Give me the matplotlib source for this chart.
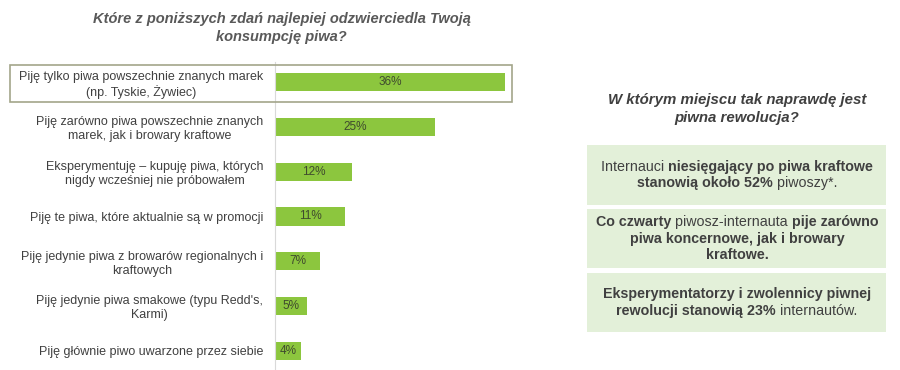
import matplotlib.pyplot as plt
from matplotlib.patches import Rectangle

plt.rcParams['font.family'] = ['Liberation Sans', 'DejaVu Sans']

labels = [
    "Piję tylko piwa powszechnie znanych marek\n(np. Tyskie, Żywiec)",
    "Piję zarówno piwa powszechnie znanych\nmarek, jak i browary kraftowe",
    "Eksperymentuję – kupuję piwa, których\nnigdy wcześniej nie próbowałem",
    "Piję te piwa, które aktualnie są w promocji",
    "Piję jedynie piwa z browarów regionalnych i\nkraftowych",
    "Piję jedynie piwa smakowe (typu Redd's,\nKarmi)",
    "Piję głównie piwo uwarzone przez siebie",
]
values = [36, 25, 12, 11, 7, 5, 4]

title_left = "Które z poniższych zdań najlepiej odzwierciedla Twoją\nkonsumpcję piwa?"
title_right = "W którym miejscu tak naprawdę jest\npiwna rewolucja?"

# each box: list of lines, each line a list of (text, bold)
boxes = [
    [[("Internauci ", False), ("niesięgający po piwa kraftowe", True)],
     [("stanowią około 52%", True), (" piwoszy*.", False)]],
    [[("Co czwarty", True), (" piwosz-internauta ", False), ("pije zarówno", True)],
     [("piwa koncernowe, jak i browary", True)],
     [("kraftowe.", True)]],
    [[("Eksperymentatorzy i zwolennicy piwnej", True)],
     [("rewolucji stanowią 23%", True), (" internautów.", False)]],
]

W, H = 900, 370
text_col = '#404040'
bar_col = '#8cc63e'
box_col = '#e3f0d9'
box_fs = 10.3

fig = plt.figure(figsize=(9, 3.7), dpi=100)
fig.patch.set_facecolor('white')

def px(x, y):
    return x / W, 1 - y / H

# bar axes
x0, y0 = px(275, 370)
ax = fig.add_axes([x0, y0, 256 / W, (370 - 62) / H])
ax.barh(range(len(values)), values, height=0.41, color=bar_col)
ax.set_xlim(0, 40)
ax.set_ylim(6.43, -0.45)
ax.set_yticks(range(len(labels)))
ax.set_yticklabels(labels, fontsize=9, color=text_col, multialignment='center')
ax.tick_params(axis='y', length=0, pad=8.5)
ax.set_xticks([])
for s in ['top', 'right', 'bottom']:
    ax.spines[s].set_visible(False)
ax.spines['left'].set_color('#d9d9d9')
ax.patch.set_alpha(0)
for i, v in enumerate(values):
    ax.text(v / 2, i, f"{v}%", ha='center', va='center', fontsize=8.5, color='#3f4a2e')

fig.text(0.313, 1 - 28 / H, title_left, ha='center', va='center', fontsize=10.5,
         fontweight='bold', style='italic', color='#595959', linespacing=1.4)

# highlight box around first row
fig.patches.append(Rectangle(px(10, 102), 502 / W, 37 / H, transform=fig.transFigure,
                             fill=False, edgecolor='#a3a58a', linewidth=1.2))

fig.text(737 / W, 1 - 109 / H, title_right, ha='center', va='center', fontsize=10.8,
         fontweight='bold', style='italic', color='#404040', linespacing=1.3)

box_tops = [145, 209, 273]
box_h = [60, 59, 59]
fig.canvas.draw()
renderer = fig.canvas.get_renderer()

def seg_width(s, bold):
    t = fig.text(0, 0, s.replace(' ', '\u00a0'), fontsize=box_fs,
                 fontweight='bold' if bold else 'normal')
    w = t.get_window_extent(renderer).width
    t.remove()
    return w

line_h = 16.5
for top, h, lines in zip(box_tops, box_h, boxes):
    fig.patches.append(Rectangle(px(587, top + h), 299 / W, h / H,
                                 transform=fig.transFigure, facecolor=box_col,
                                 edgecolor='none'))
    cy = top + h / 2
    n = len(lines)
    for j, line in enumerate(lines):
        ly = cy + (j - (n - 1) / 2) * line_h
        widths = [seg_width(s, b) for s, b in line]
        xs = 737 - sum(widths) / 2
        for (s, b), w in zip(line, widths):
            fig.text(xs / W, 1 - ly / H, s.replace(' ', '\u00a0'), fontsize=box_fs,
                     fontweight='bold' if b else 'normal', color=text_col,
                     va='center', ha='left')
            xs += w

fig.savefig('out.png', dpi=100, facecolor='white')
